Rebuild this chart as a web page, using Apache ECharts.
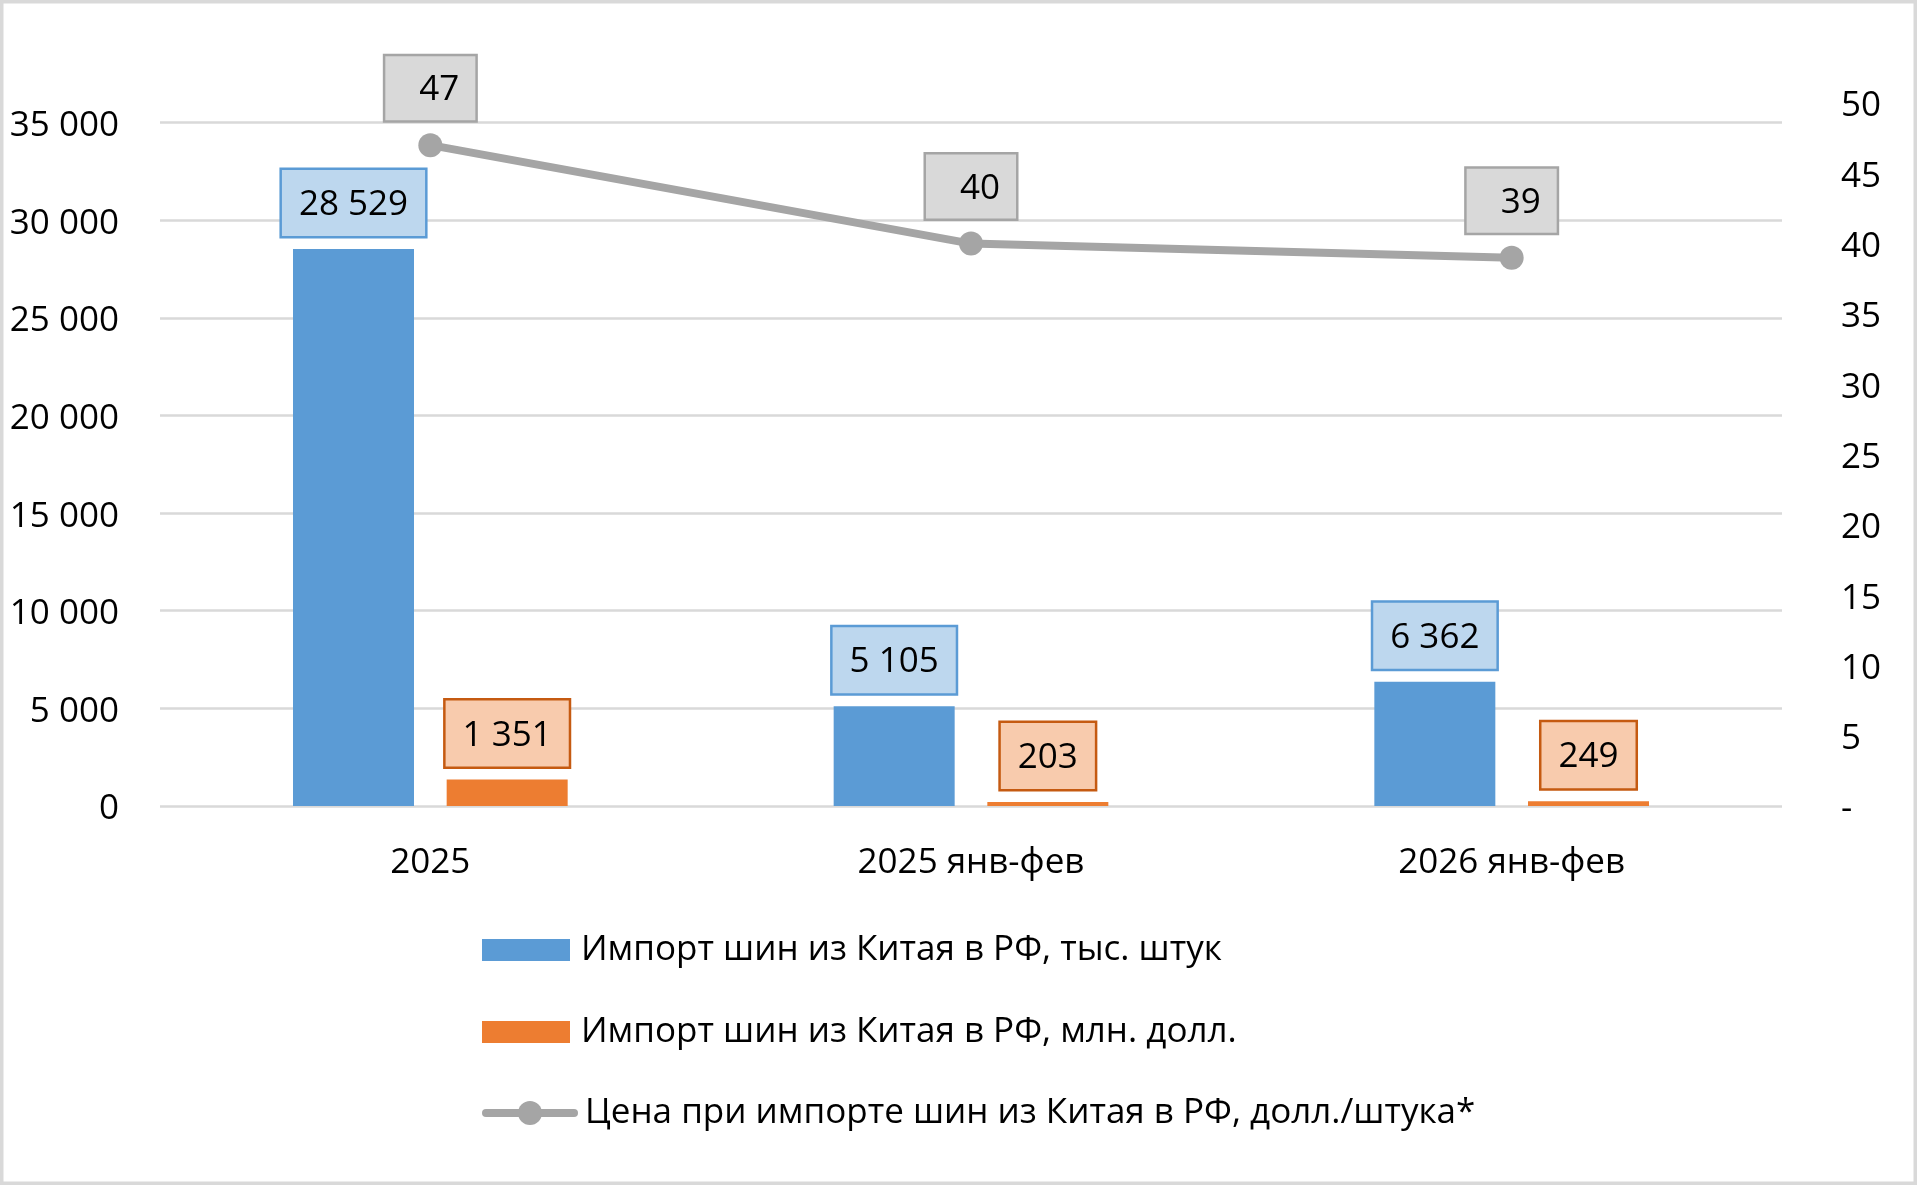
<!DOCTYPE html>
<html>
<head>
<meta charset="utf-8">
<title>Импорт шин из Китая в РФ</title>
<script src="https://cdn.jsdelivr.net/npm/echarts@6.0.0/dist/echarts.min.js"></script>
<style>
    html, body { margin: 0; padding: 0; background: #fff; }
    #chart { width: 1917px; height: 1185px; }
</style>
</head>
<body>
<div id="chart"></div>
<script>
// данные графика
let categories = ["2025", "2025 янв-фев", "2026 янв-фев"];
let importPieces = [28529, 5105, 6362];   // тыс. штук
let importUsd = [1351, 203, 249];         // млн. долл.
let importPrice = [47, 40, 39];           // долл./штука
let seriesNames = [
    "Импорт шин из Китая в РФ, тыс. штук",
    "Импорт шин из Китая в РФ, млн. долл.",
    "Цена при импорте шин из Китая в РФ, долл./штука*"
];

let font = "'Open Sans', 'Noto Sans', sans-serif";
let fontSize = 35;

//разделитель тысяч пробелом
function spaced(v) {
    return String(v).replace(/\B(?=(\d{3})+(?!\d))/g, " ");
}

function boxLabel(fill, border, padding) {
    return {
        show: true,
        position: "top",
        distance: 13,
        color: "#000",
        fontFamily: font,
        fontSize: fontSize,
        lineHeight: 40,
        backgroundColor: fill,
        borderColor: border,
        borderWidth: 2.5,
        padding: padding,
        formatter: function (p) {
            return spaced(p.value);
        }
    };
}

// подписи осей чуть ниже, как в Excel
let tickRich = {
    t: { fontFamily: font, fontSize: fontSize, color: "#000", lineHeight: 40, padding: [7, 0, 0, 0] }
};

let myChart = echarts.init(document.getElementById("chart"));

let legendText = { fontFamily: font, fontSize: fontSize, lineHeight: 40, color: "#000", padding: [0, 0, 0, 6] };

let option = {
    backgroundColor: "#fff",
    animation: false,
    textStyle: { fontFamily: font },
    graphic: [{
        type: "rect",
        shape: { x: 1.75, y: 1.75, width: 1917 - 3.5, height: 1185 - 3.5 },
        style: { fill: "none", stroke: "#d9d9d9", lineWidth: 3.5 },
        silent: true
    }],
    grid: {
        left: 160,
        right: 135,
        top: 103,
        bottom: 379,
        containLabel: false
    },
    legend: [{
        data: [seriesNames[0], seriesNames[1]],
        orient: "vertical",
        left: 482,
        top: 930,
        padding: 0,
        itemWidth: 88,
        itemHeight: 22,
        itemGap: 42,
        selectedMode: false,
        icon: "rect",
        textStyle: legendText
    }, {
        data: [seriesNames[2]],
        orient: "vertical",
        left: 482,
        top: 1093,
        padding: 0,
        itemWidth: 88,
        itemHeight: 30,
        selectedMode: false,
        lineStyle: { width: 8, cap: "round", color: "#a5a5a5" },
        textStyle: legendText
    }],
    xAxis: {
        type: "category",
        data: categories,
        axisLine: { show: false },
        axisTick: { show: false },
        axisLabel: {
            margin: 37,
            color: "#000",
            fontFamily: font,
            fontSize: fontSize,
            lineHeight: 40
        }
    },
    yAxis: [{
        type: "value",
        min: 0,
        max: 36000,
        interval: 5000,
        axisLine: { show: false },
        axisTick: { show: false },
        axisLabel: {
            margin: 41,
            color: "#000",
            fontFamily: font,
            fontSize: fontSize,
            showMaxLabel: false,
            rich: tickRich,
            formatter: function (v) {
                return v > 35000 ? "" : "{t|" + spaced(v) + "}";
            }
        },
        splitLine: {
            show: true,
            showMaxLine: false,
            lineStyle: { color: "#d9d9d9", width: 2.5 }
        }
    }, {
        type: "value",
        min: 0,
        max: 50,
        interval: 5,
        axisLine: { show: false },
        axisTick: { show: false },
        splitLine: { show: false },
        axisLabel: {
            margin: 59,
            color: "#000",
            fontFamily: font,
            fontSize: fontSize,
            rich: tickRich,
            formatter: function (v) {
                return "{t|" + (v === 0 ? "-" : String(v)) + "}";
            }
        }
    }],
    series: [{
        name: seriesNames[0],
        type: "bar",
        yAxisIndex: 0,
        barWidth: 121,
        barGap: "27%",
        itemStyle: { color: "#5b9bd5" },
        label: boxLabel("#bdd7ee", "#5b9bd5", [15, 17, 11, 17]),
        data: importPieces
    }, {
        name: seriesNames[1],
        type: "bar",
        yAxisIndex: 0,
        barWidth: 121,
        barGap: "27%",
        itemStyle: { color: "#ed7d31" },
        label: boxLabel("#f8cbad", "#c55a11", [15, 17, 11, 17]),
        data: importUsd
    }, {
        name: seriesNames[2],
        type: "line",
        yAxisIndex: 1,
        z: 5,
        symbol: "circle",
        symbolSize: 24,
        itemStyle: { color: "#a5a5a5" },
        lineStyle: { color: "#a5a5a5", width: 8, cap: "round", join: "round" },
        label: boxLabel("#d9d9d9", "#a5a5a5", [14, 16, 10, 34]),
        data: importPrice
    }]
};

myChart.setOption(option);
</script>
</body>
</html>
